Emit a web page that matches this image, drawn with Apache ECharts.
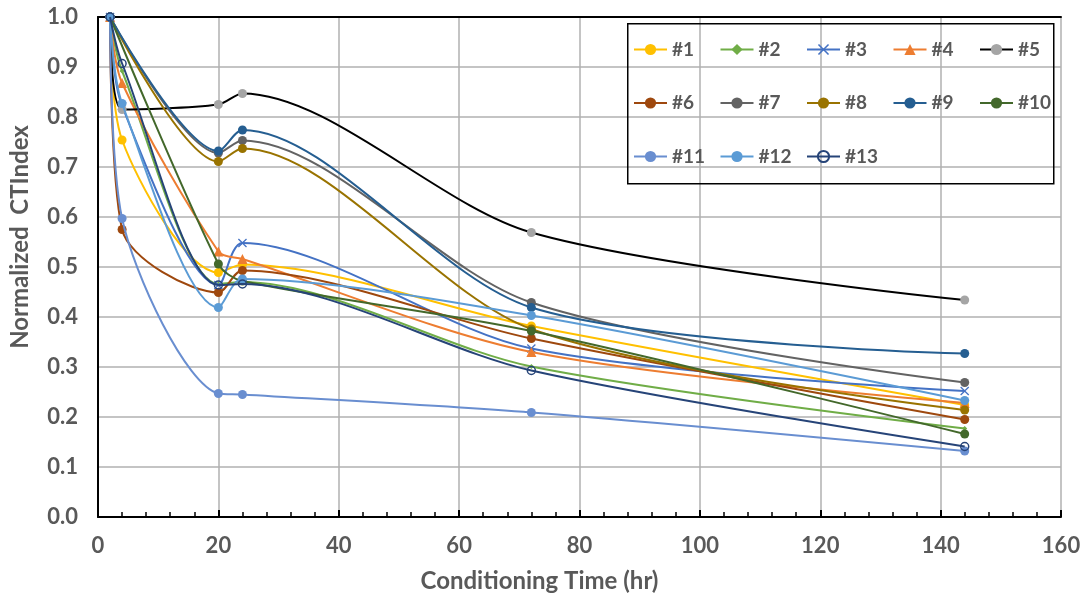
<!DOCTYPE html>
<html><head><meta charset="utf-8">
<script src="https://cdn.jsdelivr.net/npm/echarts@6/dist/echarts.min.js"></script>
<style>html,body{margin:0;padding:0;background:#fff}#c{width:1086px;height:599px}</style>
</head><body><div id="c"></div>
<script>
const times = [2, 4, 20, 24, 72, 144];
const names = ['#1','#2','#3','#4','#5','#6','#7','#8','#9','#10','#11','#12','#13'];
const s1  = [1.0, 0.754, 0.489, 0.505, 0.382, 0.224];
const s2  = [1.0, 0.892, 0.466, 0.470, 0.301, 0.177];
const s3  = [1.0, 0.822, 0.464, 0.548, 0.337, 0.252];
const s4  = [1.0, 0.868, 0.531, 0.516, 0.330, 0.228];
const s5  = [1.0, 0.815, 0.825, 0.847, 0.569, 0.434];
const s6  = [1.0, 0.575, 0.449, 0.493, 0.357, 0.195];
const s7  = [1.0, null, 0.728, 0.753, 0.429, 0.269];
const s8  = [1.0, null, 0.711, 0.737, 0.376, 0.214];
const s9  = [1.0, null, 0.732, 0.774, 0.419, 0.327];
const s10 = [1.0, null, 0.506, 0.472, 0.372, 0.166];
const s11 = [1.0, 0.597, 0.247, 0.245, 0.209, 0.132];
const s12 = [1.0, 0.827, 0.419, 0.476, 0.403, 0.233];
const s13 = [1.0, 0.907, 0.464, 0.466, 0.293, 0.141];
const values = [s1,s2,s3,s4,s5,s6,s7,s8,s9,s10,s11,s12,s13];

const lineColors = ['#FFC000','#70AD47','#4472C4','#ED7D31','#000000','#9E480E','#636363','#997300','#255E91','#43682B','#698ED0','#5B9BD5','#264478'];
const markColors = ['#FFC000','#70AD47','#4472C4','#ED7D31','#A5A5A5','#9E480E','#636363','#997300','#255E91','#43682B','#698ED0','#5B9BD5','rgba(255,255,255,0)'];
const xMark = 'path://M0,1 L1,0 L5,4 L9,0 L10,1 L6,5 L10,9 L9,10 L5,6 L1,10 L0,9 L4,5 Z';
const symbols = ['circle','diamond',xMark,'triangle','circle','circle','circle','circle','circle','circle','circle','circle','circle'];
const sizes = [9,5,9,10,9,9,9,9,9,9,9,9,8];

const FONT = 'Lato, "Liberation Sans", sans-serif';
const TXT = '#595959';

const series = names.map((n, i) => ({
  name: n,
  type: 'line',
  smooth: 0.3,
  data: times.map((t, j) => [t, values[i][j]]).filter(p => p[1] !== null),
  symbol: symbols[i],
  symbolSize: sizes[i],
  showAllSymbol: true,
  lineStyle: { color: lineColors[i], width: 2 },
  itemStyle: i === 12
    ? { color: markColors[i], borderColor: lineColors[i], borderWidth: 1.5 }
    : { color: markColors[i], borderWidth: 0 },
  emphasis: { disabled: true },
  z: 2 + i
}));

const legends = names.map((n, i) => ({
  data: [n],
  left: 633 + (i % 5) * 86.5,
  top: 40 + Math.floor(i / 5) * 53.5,
  padding: 0,
  itemWidth: 33,
  itemHeight: 14,
  itemGap: 5,
  selectedMode: false,
  textStyle: { color: TXT, fontSize: 19, fontWeight: 'bold', fontFamily: FONT }
}));

const chart = echarts.init(document.getElementById('c'), null, { renderer: 'canvas' });
chart.setOption({
  animation: false,
  backgroundColor: '#ffffff',
  grid: { left: 98, right: 25, top: 17, bottom: 82, show: false },
  legend: legends,
  graphic: [{
    type: 'rect', left: 627, top: 23, z: 100,
    shape: { width: 426, height: 160 },
    style: { fill: 'rgba(255,255,255,0)', stroke: '#000', lineWidth: 1.5 }
  }, {
    type: 'rect', left: 628, top: 24, z: 0,
    shape: { width: 424, height: 158 },
    style: { fill: '#fff' }
  }],
  xAxis: [{
    type: 'value', min: 0, max: 160, interval: 20,
    name: 'Conditioning Time (hr)', nameLocation: 'middle', nameGap: 52,
    nameTextStyle: { color: TXT, fontSize: 24, fontWeight: 'bold', fontFamily: FONT, padding: [0, 80, 0, 0] },
    axisLine: { show: true, onZero: false, lineStyle: { color: '#000', width: 2 } },
    axisTick: { show: true, inside: true, length: 7, lineStyle: { color: '#000', width: 2 } },
    minorTick: { show: true, splitNumber: 5, length: 5, lineStyle: { color: '#000', width: 1.5 } },
    axisLabel: { color: TXT, fontSize: 22, fontWeight: 'bold', fontFamily: FONT, margin: 18 },
    splitLine: { show: true, lineStyle: { color: '#B0B0B0', width: 1.5 } }
  }, {
    type: 'value', min: 0, max: 160, interval: 20, position: 'top',
    axisLine: { show: true, onZero: false, lineStyle: { color: '#000', width: 2 } },
    axisTick: { show: false }, axisLabel: { show: false }, splitLine: { show: false }
  }],
  yAxis: [{
    type: 'value', min: 0, max: 1, interval: 0.1,
    name: 'Normalized  CTIndex', nameLocation: 'middle', nameGap: 66,
    nameTextStyle: { color: TXT, fontSize: 24, fontWeight: 'bold', fontFamily: FONT, padding: [0, 0, 0, 60] },
    axisLine: { show: true, lineStyle: { color: '#000', width: 2 } },
    axisTick: { show: false },
    axisLabel: { color: TXT, fontSize: 22, fontWeight: 'bold', fontFamily: FONT, margin: 20,
      formatter: v => v.toFixed(1) },
    splitLine: { show: true, lineStyle: { color: '#B0B0B0', width: 1.5 } }
  }],
  series: series
});
</script></body></html>
